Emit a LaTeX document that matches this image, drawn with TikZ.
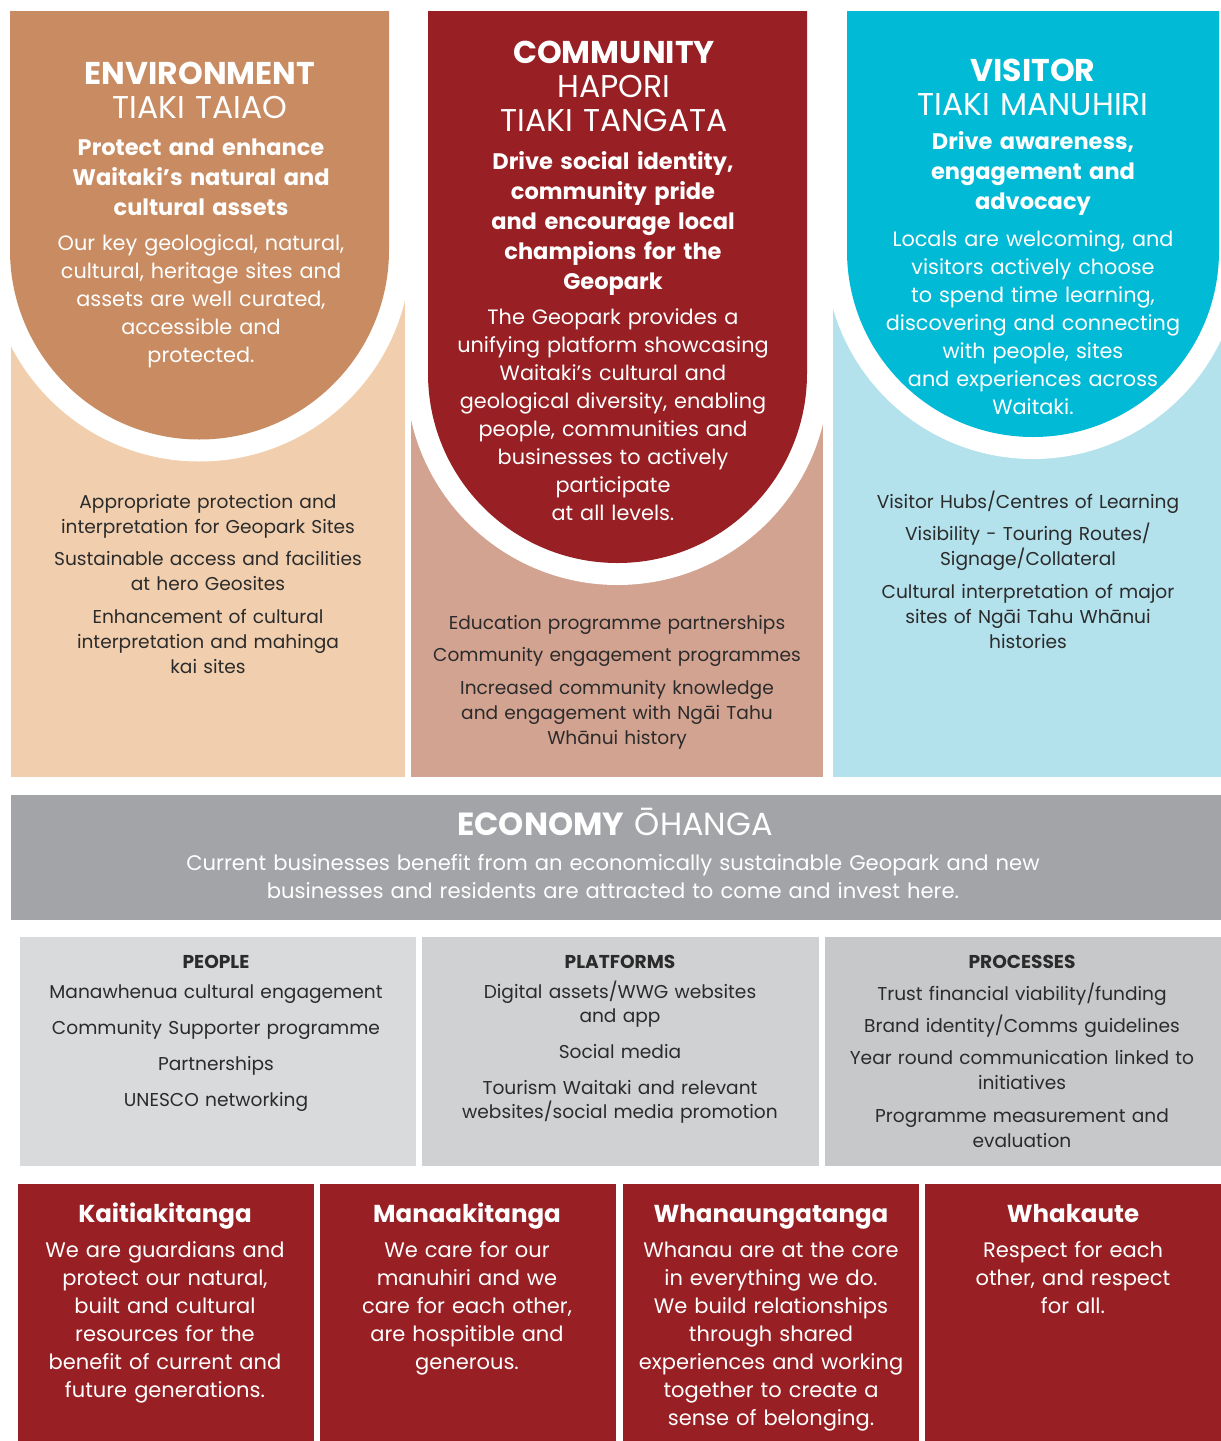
\documentclass[tikz,border=0pt]{standalone}
\usepackage{fontspec}
\setmainfont{Poppins}
\newcommand{\fsz}[2]{\fontsize{#1pt}{#2pt}\selectfont}
\definecolor{envDark}{HTML}{C98C62}
\definecolor{envLight}{HTML}{F1CFAE}
\definecolor{comDark}{HTML}{981F23}
\definecolor{comLight}{HTML}{D3A391}
\definecolor{visDark}{HTML}{00BAD6}
\definecolor{visLight}{HTML}{B3E1EC}
\definecolor{econGrey}{HTML}{A3A4A8}
\definecolor{peopleGrey}{HTML}{D9DADC}
\definecolor{platGrey}{HTML}{D0D1D3}
\definecolor{procGrey}{HTML}{C7C8CA}
\definecolor{valRed}{HTML}{981F23}
\definecolor{darkText}{HTML}{2B2B2B}
\begin{document}
\begin{tikzpicture}[x=1pt,y=-1pt,
  txt/.style={text width=460pt, align=center, inner sep=0pt, anchor=base},
  headtxt/.style={txt, text=white, font=\fsz{31.5}{34}},
  mission/.style={txt, text=white, font=\bfseries\fsz{22.5}{30}},
  desc/.style={txt, text=white, font=\fsz{20.8}{28}},
  listtxt/.style={txt, text=darkText, font=\fsz{18.6}{25}},
  econtitle/.style={txt, text=white, font=\fsz{32}{34}},
  econsub/.style={txt, text width=1150pt, text=white, font=\fsz{21.1}{28}},
  boxtxt/.style={txt, text=darkText, font=\fsz{18.6}{24}},
  valtitle/.style={txt, text=white, font=\bfseries\fsz{24.5}{28}},
  valbody/.style={txt, text=white, font=\fsz{21}{28}}]
\useasboundingbox (0,0) rectangle (1221,1441);
\fill[white] (0,0) rectangle (1221,1441);

% ---------- light column rectangles ----------
\fill[envLight] (11,12) rectangle (405,777);
\fill[comLight] (411,12) rectangle (823,777);
\fill[visLight] (833,12) rectangle (1221,777);

% ---------- white rings (clipped to each column) ----------
\begin{scope}
  \clip (11,12) rectangle (405,777);
  \fill[white] (-12,0) -- (-12,250) arc[start angle=180, end angle=0, radius=211.5] -- (411,0) -- cycle;
\end{scope}
\begin{scope}
  \clip (411,12) rectangle (823,777);
  \fill[white] (406,0) -- (406,373.5) arc[start angle=180, end angle=0, radius=211.5] -- (829,0) -- cycle;
\end{scope}
\begin{scope}
  \clip (833,12) rectangle (1221,777);
  \fill[white] (825,0) -- (825,251) arc[start angle=180, end angle=0, radius=208] -- (1241,0) -- cycle;
\end{scope}

% ---------- dark U shapes ----------
\fill[envDark] (10,11) -- (10,250) arc[start angle=180, end angle=0, radius=189.5] -- (389,11) -- cycle;
\fill[comDark] (428,11) -- (428,373.5) arc[start angle=180, end angle=0, radius=189.5] -- (807,11) -- cycle;
\fill[visDark] (847,11) -- (847,251) arc[start angle=180, end angle=0, radius=186] -- (1219,11) -- cycle;

% ---------- environment ----------
\node[headtxt] (envhead) at (200,84) {{\bfseries ENVIRONMENT}\\TIAKI TAIAO};
\node[mission] (envmis) at (201,155) {Protect and enhance\\Waitaki's natural and\\cultural assets};
\node[desc] (envdesc) at (201,250) {Our key geological, natural,\\cultural, heritage sites and\\assets are well curated,\\accessible and\\protected.};
\node[listtxt] (envlist) at (208,508) {Appropriate protection and\\interpretation for Geopark Sites\\[7pt]Sustainable access and facilities\\at hero Geosites\\[8pt]Enhancement of cultural\\interpretation and mahinga\\kai sites};

% ---------- community ----------
\node[headtxt] (comhead) at (614,63) {{\bfseries COMMUNITY}\\HAPORI\\TIAKI TANGATA};
\node[mission] (commis) at (613,169) {Drive social identity,\\community pride\\and encourage local\\champions for the\\Geopark};
\node[desc] (comdesc) at (613,324) {The Geopark provides a\\unifying platform showcasing\\Waitaki's cultural and\\geological diversity, enabling\\people, communities and\\businesses to actively\\participate\\at all levels.};
\node[listtxt] (comlist) at (617,629) {Education programme partnerships\\[7pt]Community engagement programmes\\[8pt]Increased community knowledge\\and engagement with Ngāi Tahu\\Whānui history};

% ---------- visitor ----------
\node[headtxt] (vishead) at (1033,81) {{\bfseries VISITOR}\\TIAKI MANUHIRI};
\node[mission] (vismis) at (1033,149) {Drive awareness,\\engagement and\\advocacy};
\node[desc] (visdesc) at (1033,246) {Locals are welcoming, and\\visitors actively choose\\to spend time learning,\\discovering and connecting\\with people, sites\\and experiences across\\Waitaki.};
\node[listtxt] (vislist) at (1028,508) {Visitor Hubs/Centres of Learning\\[7pt]Visibility - Touring Routes/\\Signage/Collateral\\[8pt]Cultural interpretation of major\\sites of Ngāi Tahu Whānui\\histories};

% ---------- economy ----------
\fill[econGrey] (11,795) rectangle (1221,920);
\node[econtitle] (econhead) at (615,835) {{\bfseries ECONOMY} ŌHANGA};
\node[econsub] (econsubtxt) at (613,870) {Current businesses benefit from an economically sustainable Geopark and new\\businesses and residents are attracted to come and invest here.};

% ---------- people / platforms / processes ----------
\fill[peopleGrey] (20,937) rectangle (416,1166);
\fill[platGrey] (422,937) rectangle (819,1166);
\fill[procGrey] (825,937) rectangle (1221,1166);
\node[boxtxt] (people) at (216,968) {{\bfseries PEOPLE}\\[6pt]Manawhenua cultural engagement\\[12pt]Community Supporter programme\\[12pt]Partnerships\\[12pt]UNESCO networking};
\node[boxtxt] (platforms) at (620,968) {{\bfseries PLATFORMS}\\[6pt]Digital assets/WWG websites\\and app\\[12pt]Social media\\[12pt]Tourism Waitaki and relevant\\websites/social media promotion};
\node[boxtxt] (processes) at (1022,968) {{\bfseries PROCESSES}\\[8pt]Trust financial viability/funding\\[8pt]Brand identity/Comms guidelines\\[8pt]Year round communication linked to\\[1pt]initiatives\\[9pt]Programme measurement and\\[1pt]evaluation};

% ---------- values ----------
\fill[valRed] (18,1184) rectangle (314,1441);
\fill[valRed] (320,1184) rectangle (616,1441);
\fill[valRed] (623,1184) rectangle (919,1441);
\fill[valRed] (925,1184) rectangle (1221,1441);
\node[valtitle] (kaititle) at (165,1222) {Kaitiakitanga};
\node[valbody] (kaibody) at (165,1257) {We are guardians and\\protect our natural,\\built and cultural\\resources for the\\benefit of current and\\future generations.};
\node[valtitle] (manatitle) at (467,1222) {Manaakitanga};
\node[valbody] (manabody) at (467,1257) {We care for our\\manuhiri and we\\care for each other,\\are hospitible and\\generous.};
\node[valtitle] (whanatitle) at (771,1222) {Whanaungatanga};
\node[valbody] (whanabody) at (771,1257) {Whanau are at the core\\in everything we do.\\We build relationships\\through shared\\experiences and working\\together to create a\\sense of belonging.};
\node[valtitle] (whaktitle) at (1073,1222) {Whakaute};
\node[valbody] (whakbody) at (1073,1257) {Respect for each\\other, and respect\\for all.};
\end{tikzpicture}
\end{document}
